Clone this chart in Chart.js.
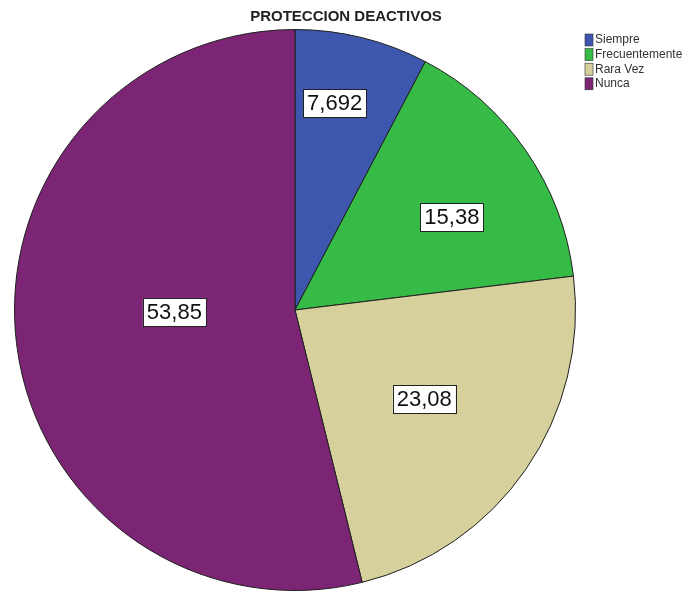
<!DOCTYPE html>
<html>
<head>
<meta charset="utf-8">
<script src="https://cdn.jsdelivr.net/npm/chart.js@4/dist/chart.umd.min.js"></script>
<style>
html,body{margin:0;padding:0;background:#fff;}
#wrap{width:692px;height:591px;position:relative;}
</style>
</head>
<body>
<div id="wrap"><canvas id="c" width="692" height="591"></canvas></div>
<script>
const title = "PROTECCION DEACTIVOS";
const categories = ["Siempre", "Frecuentemente", "Rara Vez", "Nunca"];
const values = [7.692, 15.38, 23.08, 53.85];
const colors = ["#3d57ae", "#36bb46", "#d6d09c", "#7b2574"];
const labelRadius = [0.75, 0.65, 0.56, 0.43];
const labelAngleShift = [-3, 4, 0, 6];

const FONT = "'Liberation Sans', Arial, sans-serif";

const titlePlugin = {
  id: 'titleDraw',
  afterDraw(chart) {
    const ctx = chart.ctx;
    ctx.save();
    ctx.font = "bold 15px " + FONT;
    ctx.fillStyle = "#222";
    ctx.textAlign = "center";
    ctx.textBaseline = "middle";
    ctx.fillText(title, chart.width / 2, 17);
    ctx.restore();
  }
};

const legendPlugin = {
  id: 'legendDraw',
  afterDraw(chart) {
    const ctx = chart.ctx;
    const ds = chart.data.datasets[0];
    ctx.save();
    ctx.font = "12px " + FONT;
    ctx.textBaseline = "middle";
    ctx.textAlign = "left";
    chart.data.labels.forEach((lab, i) => {
      const cy = 40 + i * 14.6;
      ctx.fillStyle = ds.backgroundColor[i];
      ctx.fillRect(585, cy - 6, 8, 12);
      ctx.strokeStyle = "#333";
      ctx.lineWidth = 0.6;
      ctx.strokeRect(585, cy - 6, 8, 12);
      ctx.fillStyle = "#333";
      ctx.fillText(lab, 595, cy);
    });
    ctx.restore();
  }
};

const valueLabelPlugin = {
  id: 'valueLabels',
  afterDatasetsDraw(chart) {
    const ctx = chart.ctx;
    const meta = chart.getDatasetMeta(0);
    const vals = chart.data.datasets[0].data;
    ctx.save();
    ctx.font = "22px " + FONT;
    ctx.textAlign = "center";
    ctx.textBaseline = "middle";
    meta.data.forEach((arc, i) => {
      const p = arc.getProps(['x', 'y', 'startAngle', 'endAngle', 'outerRadius'], true);
      const mid = (p.startAngle + p.endAngle) / 2 + labelAngleShift[i] * Math.PI / 180;
      const r = p.outerRadius * labelRadius[i];
      const x = p.x + Math.cos(mid) * r;
      const y = p.y + Math.sin(mid) * r;
      const txt = String(vals[i]).replace('.', ',');
      const w = ctx.measureText(txt).width + 8;
      const h = 28;
      ctx.fillStyle = "#fff";
      ctx.fillRect(x - w / 2, y - h / 2, w, h);
      ctx.strokeStyle = "#222";
      ctx.lineWidth = 1;
      ctx.strokeRect(Math.round(x - w / 2) + 0.5, Math.round(y - h / 2) + 0.5, Math.round(w), h);
      ctx.fillStyle = "#111";
      ctx.fillText(txt, x, y + 1);
    });
    ctx.restore();
  }
};

new Chart(document.getElementById('c'), {
  type: 'pie',
  data: {
    labels: categories,
    datasets: [{
      data: values,
      backgroundColor: colors,
      borderColor: "#1e1e1e",
      borderWidth: 1
    }]
  },
  options: {
    responsive: false,
    animation: false,
    devicePixelRatio: 1,
    layout: { padding: { left: 13, right: 115, top: 29, bottom: 0 } },
    plugins: {
      legend: { display: false },
      title: { display: false },
      tooltip: { enabled: false }
    }
  },
  plugins: [valueLabelPlugin, titlePlugin, legendPlugin]
});
</script>
</body>
</html>
